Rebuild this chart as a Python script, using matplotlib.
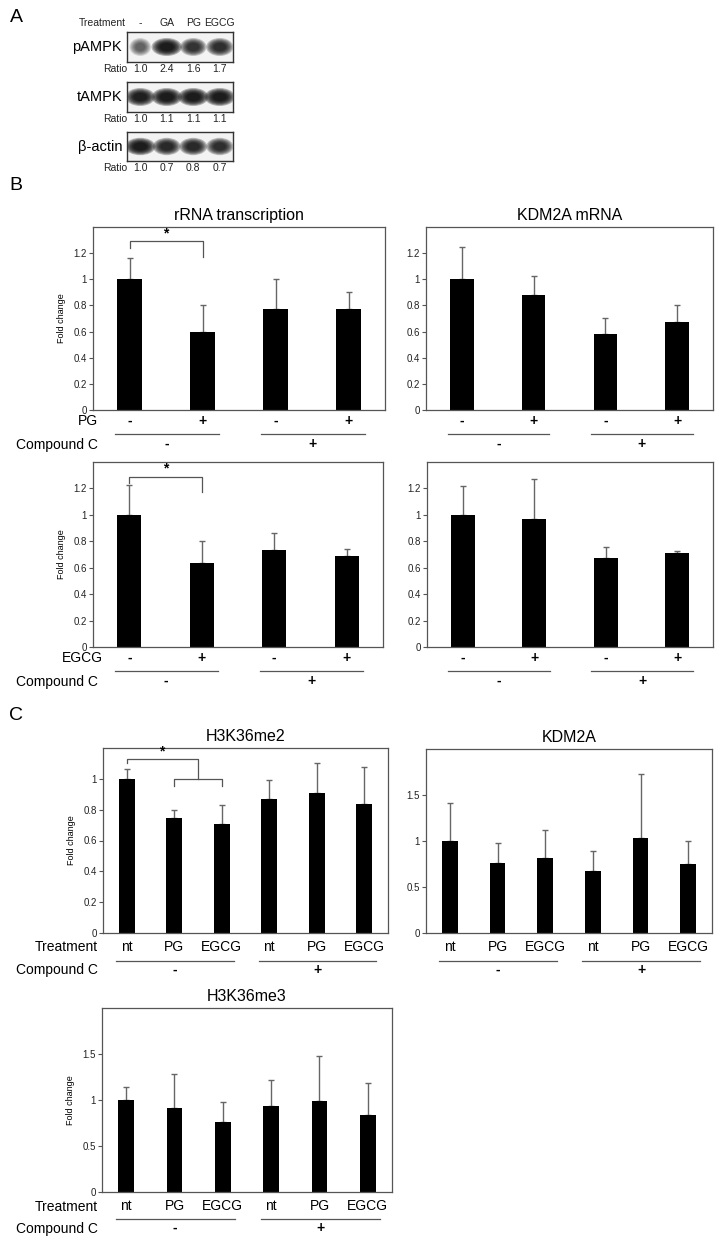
import numpy as np
import matplotlib
matplotlib.use("Agg")
import matplotlib.pyplot as plt
from matplotlib import transforms
from matplotlib.patches import Ellipse

plt.rcParams["font.family"] = ["Liberation Sans", "DejaVu Sans"]

W, H = 724, 1244

# ---------------- panel A: western blot ----------------
LANES = ["-", "GA", "PG", "EGCG"]
RATIO_PAMPK = [1.0, 2.4, 1.6, 1.7]
RATIO_TAMPK = [1.0, 1.1, 1.1, 1.1]
RATIO_ACTIN = [1.0, 0.7, 0.8, 0.7]
# band darkness as seen on the scan (0..1)
BAND_PAMPK = [0.45, 1.0, 0.75, 0.8]
BAND_TAMPK = [0.95, 1.0, 1.0, 1.0]
BAND_ACTIN = [1.0, 0.85, 0.85, 0.8]

# ---------------- panel B: qPCR ----------------
B_COND = ["-", "+", "-", "+"]
COMPC = ["-", "+"]
RRNA_PG = [1.0, 0.60, 0.775, 0.77]
RRNA_PG_SD = [0.165, 0.205, 0.23, 0.13]
KDM2A_PG = [1.0, 0.88, 0.585, 0.67]
KDM2A_PG_SD = [0.245, 0.145, 0.115, 0.13]
RRNA_EGCG = [1.0, 0.635, 0.735, 0.685]
RRNA_EGCG_SD = [0.225, 0.165, 0.125, 0.055]
KDM2A_EGCG = [1.0, 0.97, 0.675, 0.71]
KDM2A_EGCG_SD = [0.22, 0.30, 0.085, 0.015]

# ---------------- panel C: western quantification ----------------
C_TREAT = ["nt", "PG", "EGCG", "nt", "PG", "EGCG"]
H3K36ME2 = [1.0, 0.745, 0.71, 0.87, 0.905, 0.835]
H3K36ME2_SD = [0.065, 0.055, 0.12, 0.12, 0.20, 0.24]
KDM2A_PROT = [1.0, 0.76, 0.82, 0.675, 1.03, 0.755]
KDM2A_PROT_SD = [0.41, 0.215, 0.30, 0.215, 0.695, 0.25]
H3K36ME3 = [1.0, 0.91, 0.76, 0.93, 0.99, 0.835]
H3K36ME3_SD = [0.14, 0.37, 0.215, 0.285, 0.49, 0.355]

GRAY = "#555555"


def add_ax(fig, l, t, r, b):
    return fig.add_axes([l / W, 1 - b / H, (r - l) / W, (b - t) / H])


def ftext(fig, x, y, s, **kw):
    fig.text(x / W, 1 - y / H, s, **kw)


def bar_panel(ax, vals, sd, ymax, ticks, labels, title=None, ylabel=True,
              bold=True, xpad=3.0):
    x = np.arange(len(vals))
    ax.bar(x, vals, width=0.33, color="black", zorder=2)
    ax.errorbar(x, vals, yerr=[np.zeros(len(vals)), sd], fmt="none",
                ecolor="#666666", elinewidth=1, capsize=2.5, capthick=1, zorder=1)
    ax.set_xlim(-0.5, len(vals) - 0.5)
    ax.set_ylim(0, ymax)
    ax.set_yticks(ticks)
    ax.set_yticklabels([f"{t:g}" for t in ticks])
    ax.tick_params(axis="y", labelsize=7, length=3, width=0.8, color=GRAY,
                   pad=1.5, labelcolor="#222222")
    ax.set_xticks(x)
    ax.set_xticklabels(labels, fontsize=10,
                       fontweight="bold" if bold else "normal")
    ax.tick_params(axis="x", length=0, pad=xpad)
    for s in ax.spines.values():
        s.set_color(GRAY)
        s.set_linewidth(0.9)
    if title:
        ax.set_title(title, fontsize=11.5, pad=5)
    if ylabel:
        ax.set_ylabel("Fold change", fontsize=6.5, labelpad=5)


def groups(ax, ax_h, starts, ends, line_px, label_px, labels):
    tr = transforms.blended_transform_factory(ax.transData, ax.transAxes)
    for s, e, lab in zip(starts, ends, labels):
        ax.plot([s, e], [-line_px / ax_h] * 2, color=GRAY, lw=0.9,
                transform=tr, clip_on=False)
        ax.text((s + e) / 2, -label_px / ax_h, lab, transform=tr, ha="center",
                va="center", fontsize=10, fontweight="bold")


def bracket(ax, x0, x1, y, d0, d1, lw=0.9):
    ax.plot([x0, x0, x1, x1], [y - d0, y, y, y - d1], color=GRAY, lw=lw,
            clip_on=False)


def blot(ax, dark):
    ax.set_xlim(-0.5, 3.5)
    ax.set_ylim(0, 1)
    ax.set_facecolor("#f3f3f3")
    for i, d in enumerate(dark):
        for s in np.linspace(1.0, 0.45, 7):
            ax.add_patch(Ellipse((i, 0.5), (0.55 + 0.6 * d) * s, 0.6 * s,
                                 color="black", alpha=0.26 * d, lw=0))
    ax.set_xticks([])
    ax.set_yticks([])
    for s in ax.spines.values():
        s.set_color("#333333")
        s.set_linewidth(1)


def ratio_row(ax, ratios, y_frac):
    tr = transforms.blended_transform_factory(ax.transData, ax.transAxes)
    for i, r in enumerate(ratios):
        ax.text(i, y_frac, f"{r:.1f}", transform=tr, ha="center", va="center",
                fontsize=7.5, color="#222222")


fig = plt.figure(figsize=(W / 100, H / 100), dpi=100)

# ---- panel letters
ftext(fig, 16, 18, "A", fontsize=14, ha="center", va="center")
ftext(fig, 16, 186, "B", fontsize=14, ha="center", va="center")
ftext(fig, 16, 715, "C", fontsize=14, ha="center", va="center")

# ---- panel A
blot_boxes = [(32, 62), (82, 112), (132, 161)]
names = ["pAMPK", "tAMPK", "β-actin"]
darks = [BAND_PAMPK, BAND_TAMPK, BAND_ACTIN]
ratios = [RATIO_PAMPK, RATIO_TAMPK, RATIO_ACTIN]
for (t, b), name, dk, rt in zip(blot_boxes, names, darks, ratios):
    ax = add_ax(fig, 127, t, 233, b)
    blot(ax, dk)
    ratio_row(ax, rt, -7 / (b - t))
    ftext(fig, 122, (t + b) / 2, name, fontsize=10.5, ha="right", va="center")
    ftext(fig, 127, b + 7, "Ratio", fontsize=7.5, ha="right", va="center",
          color="#222222")
    if name == "pAMPK":
        ax.xaxis.tick_top()
        ax.set_xticks(range(len(LANES)))
        ax.set_xticklabels(LANES, fontsize=7.5, color="#222222")
        ax.tick_params(axis="x", length=0, pad=3)
ftext(fig, 126, 23, "Treatment", fontsize=7.5, ha="right", va="center",
      color="#222222")

# ---- panel B
b_ticks = [0, 0.2, 0.4, 0.6, 0.8, 1.0, 1.2]
specs_b = [
    ((93, 227, 385, 410), RRNA_PG, RRNA_PG_SD, "rRNA transcription", True),
    ((426, 227, 713, 410), KDM2A_PG, KDM2A_PG_SD, "KDM2A mRNA", False),
    ((93, 462, 383, 647), RRNA_EGCG, RRNA_EGCG_SD, None, True),
    ((427, 462, 713, 647), KDM2A_EGCG, KDM2A_EGCG_SD, None, False),
]
axes_b = []
for (l, t, r, b), vals, sd, title, yl in specs_b:
    ax = add_ax(fig, l, t, r, b)
    bar_panel(ax, vals, sd, 1.4, b_ticks, B_COND, title=title, ylabel=yl)
    groups(ax, b - t, [-0.2, 1.8], [1.22, 3.22], 24, 34, COMPC)
    axes_b.append(ax)

# significance brackets (control vs treated, no compound C)
for ax in (axes_b[0], axes_b[2]):
    bracket(ax, 0, 1, 1.29, 0.05, 0.12)
    ax.text(0.5, 1.30, "*", ha="center", va="bottom", fontsize=10,
            fontweight="bold")

ftext(fig, 98, 421, "PG", fontsize=10, ha="right", va="center")
ftext(fig, 98, 445, "Compound C", fontsize=10, ha="right", va="center")
ftext(fig, 103, 658, "EGCG", fontsize=10, ha="right", va="center")
ftext(fig, 98, 682, "Compound C", fontsize=10, ha="right", va="center")

# ---- panel C
c1 = add_ax(fig, 103, 748, 388, 933)
bar_panel(c1, H3K36ME2, H3K36ME2_SD, 1.2, [0, 0.2, 0.4, 0.6, 0.8, 1.0],
          C_TREAT, title="H3K36me2", bold=False, xpad=5)
groups(c1, 185, [-0.22, 2.78], [2.25, 5.25], 28, 37, COMPC)
bracket(c1, 0, 1.5, 1.13, 0.03, 0.13)
bracket(c1, 1, 2, 1.0, 0.045, 0.045)
c1.text(0.73, 1.13, "*", ha="center", va="bottom", fontsize=10,
        fontweight="bold")

c2 = add_ax(fig, 426, 749, 712, 933)
bar_panel(c2, KDM2A_PROT, KDM2A_PROT_SD, 2.0, [0, 0.5, 1.0, 1.5], C_TREAT,
          title="KDM2A", ylabel=False, bold=False, xpad=5)
groups(c2, 184, [-0.22, 2.78], [2.25, 5.25], 28, 37, COMPC)

c3 = add_ax(fig, 102, 1008, 392, 1192)
bar_panel(c3, H3K36ME3, H3K36ME3_SD, 2.0, [0, 0.5, 1.0, 1.5], C_TREAT,
          title="H3K36me3", bold=False, xpad=5)
groups(c3, 184, [-0.22, 2.78], [2.25, 5.25], 27, 36, COMPC)

ftext(fig, 98, 947, "Treatment", fontsize=10, ha="right", va="center")
ftext(fig, 98, 970, "Compound C", fontsize=10, ha="right", va="center")
ftext(fig, 98, 1207, "Treatment", fontsize=10, ha="right", va="center")
ftext(fig, 98, 1229, "Compound C", fontsize=10, ha="right", va="center")

fig.savefig("out.png", dpi=100, facecolor="white")
